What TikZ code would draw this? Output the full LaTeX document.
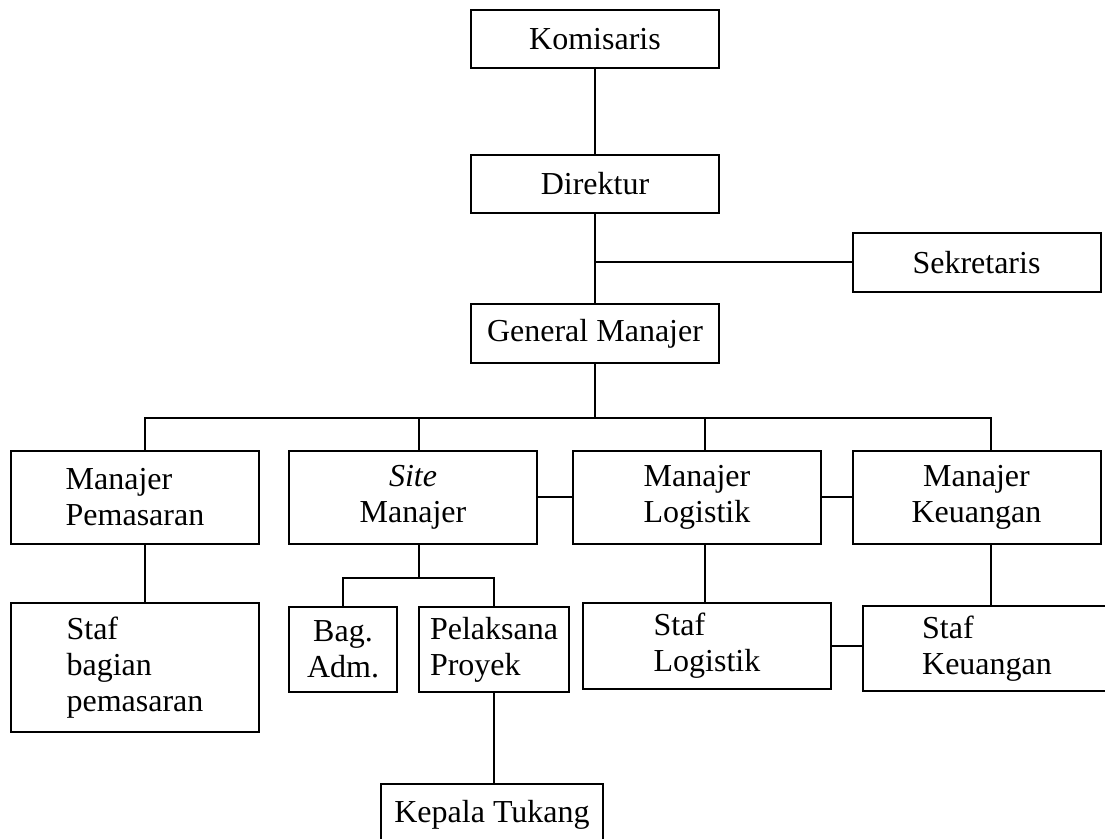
\documentclass[tikz,border=0pt]{standalone}
\usepackage{fontspec}
\setmainfont{Liberation Serif}

\begin{document}
\begin{tikzpicture}[x=0.5pt,y=-0.5pt,line width=1pt]
    \tikzstyle{unit}=[rectangle,draw=black!100,inner sep=0pt,font=\fontsize{16}{18}\selectfont]
    \tikzstyle{wide}=[unit,minimum width=124pt]
    \useasboundingbox (0,0) rectangle (1105,839);
    \clip (0,0) rectangle (1105,839);

    % top of the chart
    \node (kom) at (595,39) [wide,minimum height=29pt] {Komisaris};
    \node (dir) at (595,184) [wide,minimum height=29pt] {Direktur};
    \node (sek) at (976.5,262.5) [wide,minimum height=29.5pt] {Sekretaris};
    \node (gm) at (595,333.5) [wide,minimum height=29.5pt] {General Manajer};

    % managers
    \node (mpem) at (135,497.5) [wide,minimum height=46.5pt,align=left] {Manajer\\Pemasaran};
    \node (msite) at (413,497.5) [wide,minimum height=46.5pt,align=center] {\textit{Site}\\Manajer};
    \node (mlog) at (697,497.5) [wide,minimum height=46.5pt,align=left] {Manajer\\Logistik};
    \node (mkeu) at (976.5,497.5) [wide,minimum height=46.5pt,align=center] {Manajer\\Keuangan};

    % staff
    \node (spem) at (135,667.5) [wide,minimum height=64.5pt,align=left] {Staf\\bagian\\pemasaran};
    \node (badm) at (343,649.5) [unit,minimum width=54pt,minimum height=42.5pt,align=center] {Bag.\\Adm.};
    \node (pel) at (494,649.5) [unit,minimum width=75pt,minimum height=42.5pt,align=left] {Pelaksana\\Proyek};
    \node (slog) at (707,646) [wide,minimum height=43pt,align=left] {Staf\\Logistik};
    \node (skeu) at (987,648.5) [wide,minimum height=42.5pt,align=left] {Staf\\Keuangan};
    \node (kep) at (492,815) [unit,minimum width=111pt,minimum height=31pt] {Kepala Tukang};

    \coordinate (bus) at (595,418);
    \coordinate (sub) at (419,578);

    \draw (kom) -- (dir);
    \draw (dir) -- (gm);
    \draw (sek.west) -- (sek.west -| dir.south);
    \draw (gm) -- (bus);
    \foreach \n/\d in {mpem/5pt,msite/3pt,mlog/4pt,mkeu/7pt}
        \draw ([xshift=\d]\n.north) |- (bus);

    \draw (msite.east) -- (mlog.west);
    \draw (mlog.east) -- (mkeu.west);

    \draw ([xshift=5pt]mpem.south) -- ([xshift=5pt]mpem.south |- spem.north);
    \draw ([xshift=3pt]msite.south) -- (sub);
    \draw (badm.north) |- (sub);
    \draw (pel.north) |- (sub);
    \draw ([xshift=4pt]mlog.south) -- ([xshift=4pt]mlog.south |- slog.north);
    \draw ([xshift=7pt]mkeu.south) -- ([xshift=7pt]mkeu.south |- skeu.north);
    \draw (slog.east) -- (slog.east -| skeu.west);
    \draw (pel.south) -- (pel.south |- kep.north);
\end{tikzpicture}
\end{document}
